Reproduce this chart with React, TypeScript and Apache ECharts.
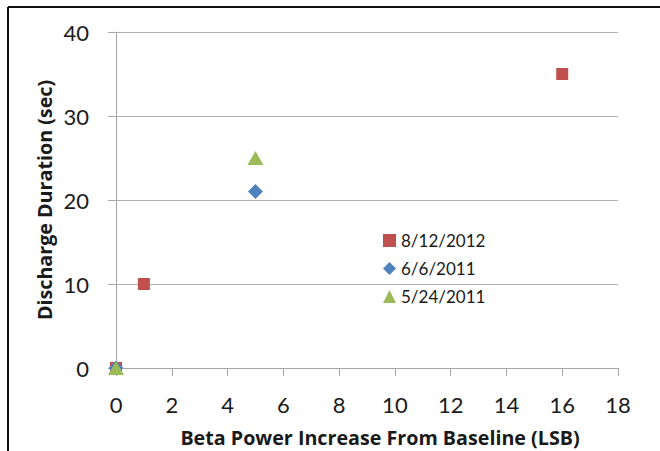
import React, { useEffect, useRef } from "react";
import * as echarts from "echarts";

const seriesNames = ["8/12/2012", "6/6/2011", "5/24/2011"];
const redPoints: [number, number][] = [[0, 0], [1, 10], [16, 35]];
const bluePoints: [number, number][] = [[0, 0], [5, 21]];
const greenPoints: [number, number][] = [[0, 0], [5, 25]];
const xTitle = "Beta Power Increase From Baseline (LSB)";
const yTitle = "Discharge Duration (sec)";

const FONT = "Lato, 'Open Sans', sans-serif";
const TITLE_FONT = "'Open Sans', Lato, sans-serif";

export default function App() {
  const ref = useRef<HTMLDivElement>(null);
  useEffect(() => {
    if (!ref.current) return;
    const chart = echarts.init(ref.current, null, { renderer: "svg" });
    chart.setOption({
      animation: false,
      backgroundColor: "#ffffff",
      grid: { left: 116, right: 42, top: 32, bottom: 83, containLabel: false },
      xAxis: {
        type: "value",
        min: 0,
        max: 18,
        interval: 2,
        axisLine: { show: true, lineStyle: { color: "#a6a6a6", width: 1 } },
        axisTick: { show: true, length: 8, lineStyle: { color: "#a6a6a6" } },
        splitLine: { show: false },
        axisLabel: { color: "#1a1a1a", fontSize: 22, fontFamily: FONT, margin: 25 },
      },
      yAxis: {
        type: "value",
        min: 0,
        max: 40,
        interval: 10,
        axisLine: { show: true, lineStyle: { color: "#a6a6a6", width: 1 } },
        axisTick: { show: true, length: 8, lineStyle: { color: "#a6a6a6" } },
        splitLine: { show: true, lineStyle: { color: "#b3b3b3", width: 1 } },
        axisLabel: { color: "#1a1a1a", fontSize: 22, fontFamily: FONT, margin: 27 },
      },
      legend: {
        orient: "vertical",
        left: 378,
        top: 227,
        itemWidth: 13,
        itemHeight: 13,
        itemGap: 11,
        textStyle: { color: "#1a1a1a", fontSize: 17, fontFamily: FONT },
        data: seriesNames,
      },
      series: [
        {
          name: seriesNames[0],
          type: "scatter",
          symbol: "rect",
          symbolSize: 12,
          itemStyle: { color: "#C0504D", opacity: 1 },
          data: redPoints,
        },
        {
          name: seriesNames[1],
          type: "scatter",
          symbol: "diamond",
          symbolSize: 15,
          itemStyle: { color: "#4F81BD", opacity: 1 },
          data: bluePoints,
        },
        {
          name: seriesNames[2],
          type: "scatter",
          symbol: "triangle",
          symbolSize: [16, 14],
          itemStyle: { color: "#9BBB59", opacity: 1 },
          data: greenPoints,
        },
      ],
      graphic: [
        { type: "line", shape: { x1: 8, y1: 7, x2: 660, y2: 7 }, style: { stroke: "#111", lineWidth: 2 } },
        { type: "line", shape: { x1: 8, y1: 7, x2: 8, y2: 451 }, style: { stroke: "#111", lineWidth: 2 } },
        {
          type: "text",
          x: 380,
          y: 437,
          style: {
            text: xTitle,
            align: "center",
            verticalAlign: "middle",
            font: `bold 19.7px ${TITLE_FONT}`,
            fill: "#1a1a1a",
          },
        },
        {
          type: "text",
          x: 44,
          y: 200,
          rotation: Math.PI / 2,
          style: {
            text: yTitle,
            align: "center",
            verticalAlign: "middle",
            font: `bold 19.7px ${TITLE_FONT}`,
            fill: "#1a1a1a",
          },
        },
      ],
    });
    return () => chart.dispose();
  }, []);
  return (
    <div
      ref={ref}
      style={{ position: "fixed", left: 0, top: 0, width: 660, height: 451 }}
    />
  );
}
